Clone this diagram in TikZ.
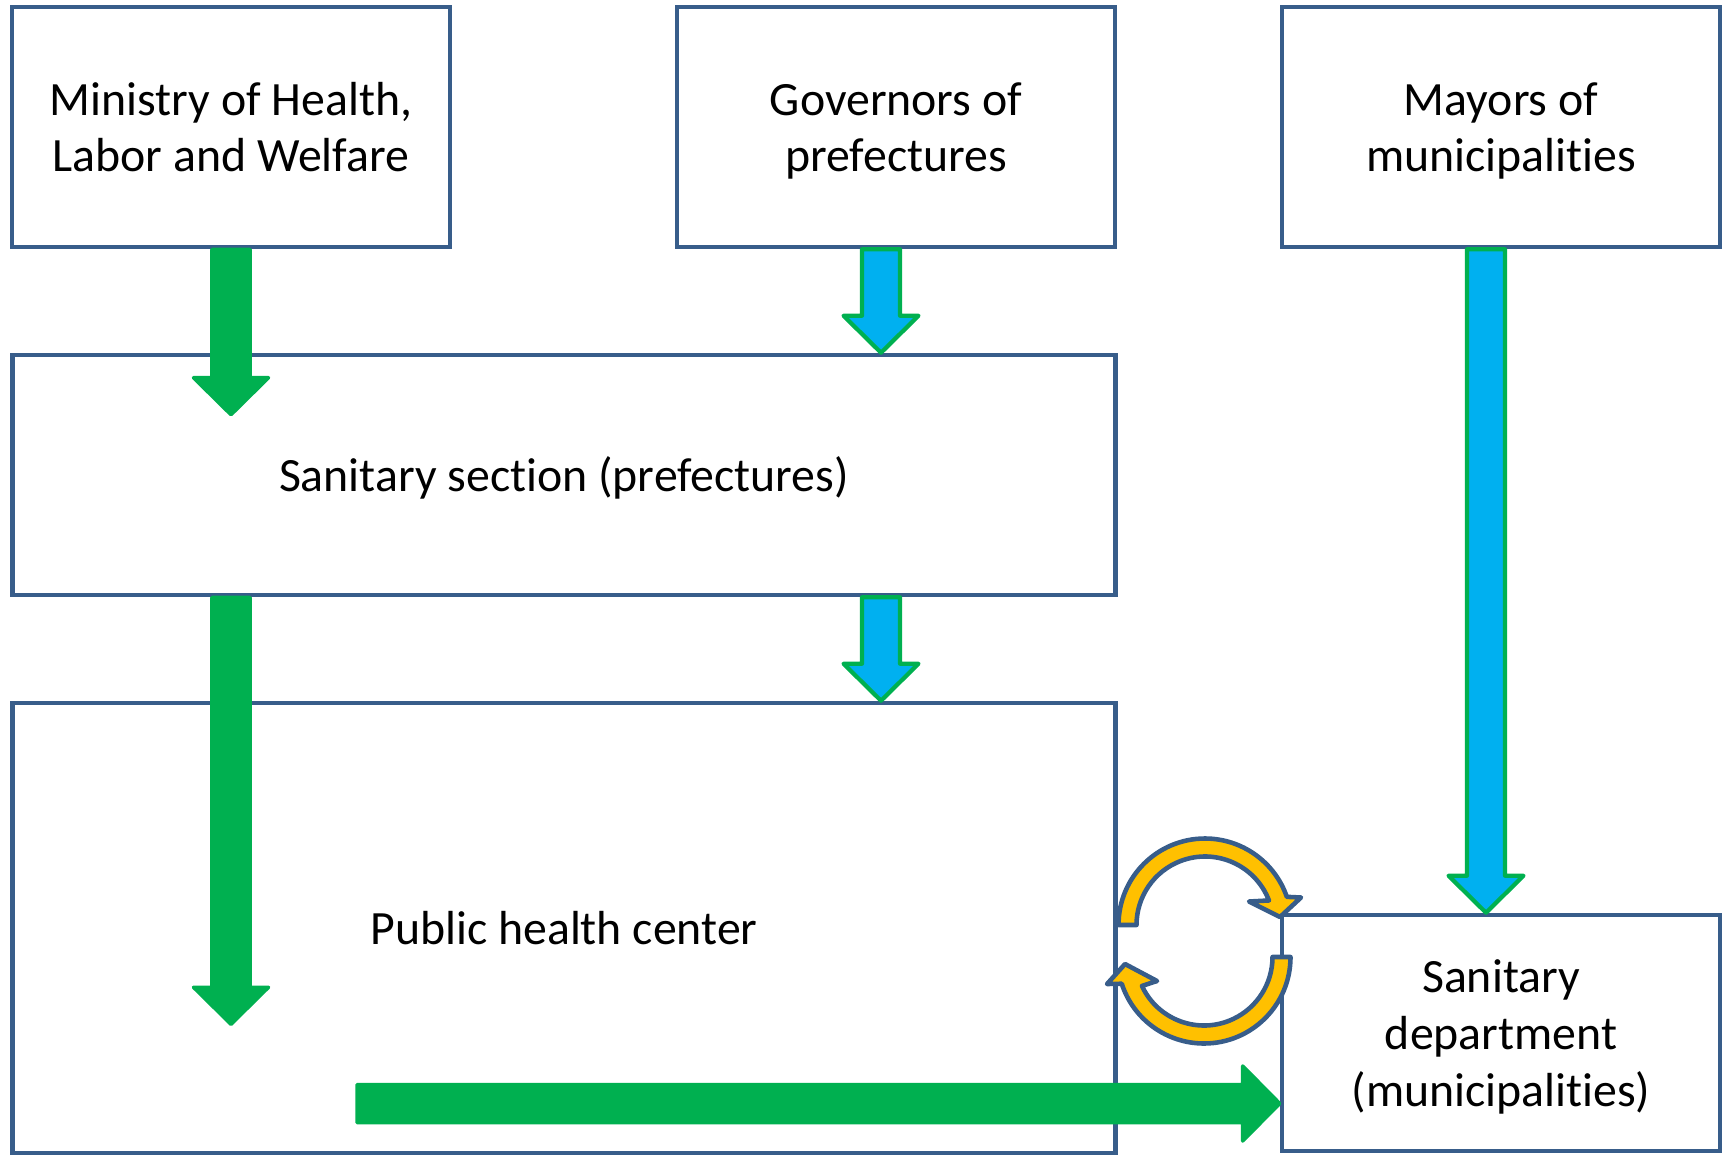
\documentclass[tikz,border=0pt]{standalone}
\usepackage{fontspec}
\setmainfont{Carlito}[Ligatures=NoCommon]
\usetikzlibrary{calc}
\definecolor{boxline}{RGB}{56,93,138}
\definecolor{arrgreen}{RGB}{0,176,80}
\definecolor{arrblue}{RGB}{0,176,240}
\definecolor{arryellow}{RGB}{255,192,0}
% line strut, as tall as one text line
\newcommand{\ls}{\rule[-3.4pt]{0pt}{16.2pt}}
% block arrow from #2 to the tip #3
\newcommand{\fatarrow}[3]{%
	\coordinate (fa-b) at ($(#3)!0.37cm!(#2)$);
	\path[#1] ($(#2)!0.19cm!90:(#3)$) -- ($(fa-b)!0.19cm!90:(#3)$) -- ($(fa-b)!0.375cm!90:(#3)$) -- (#3)
	-- ($(fa-b)!0.375cm!-90:(#3)$) -- ($(fa-b)!0.19cm!-90:(#3)$) -- ($(#2)!0.19cm!-90:(#3)$) -- cycle;}
\tikzset{
	box/.style={draw=boxline,line width=1.3pt,fill=white,inner sep=0pt,align=center,
		font=\fontsize{13.6}{16.2}\selectfont},
	greenarr/.style={fill=arrgreen,draw=arrgreen,line width=1pt,line join=round},
	bluearr/.style={fill=arrblue,draw=arrgreen,line width=1.2pt,line join=round},
	cyc/.style={fill=arryellow,draw=boxline,line width=1.3pt,line join=round},
}
\begin{document}
\begin{tikzpicture}
\useasboundingbox (0,0) rectangle (17.27,11.54);

\node[box,minimum width=4.38cm,minimum height=2.40cm] (mhlw) at (2.31,10.27) {\ls Ministry of Health,\\\ls Labor and Welfare};
\node[box,minimum width=4.38cm,minimum height=2.40cm] (gov) at (8.96,10.27) {\ls Governors of\\\ls prefectures};
\node[box,minimum width=4.38cm,minimum height=2.40cm] (mayor) at (15.01,10.27) {\ls Mayors of\\\ls municipalities};
\node[box,minimum width=11.03cm,minimum height=2.40cm] (sec) at (5.64,6.79) {\ls Sanitary section (prefectures)};
\node[box,minimum width=11.03cm,minimum height=4.50cm] (phc) at (5.64,2.26) {\ls Public health center};
\node[box,minimum width=4.38cm,minimum height=2.36cm] (dept) at (15.01,1.21) {\ls Sanitary\\\ls department\\\ls (municipalities)};

% green arrows
\coordinate (t1) at ($(mhlw.south |- sec.north)+(0,-0.62)$);
\coordinate (s2) at (mhlw.south |- sec.south);
\coordinate (t2) at ($(s2)+(0,-4.27)$);
\fatarrow{greenarr}{mhlw.south}{t1}
\fatarrow{greenarr}{s2}{t2}
\coordinate (s6) at (3.57,0.505);
\coordinate (t6) at (dept.west |- s6);
\fatarrow{greenarr}{s6}{t6}

% blue arrows
\coordinate (s3) at ($(gov.south)+(-0.15,0)$);
\coordinate (t3) at (s3 |- sec.north);
\coordinate (s4) at (s3 |- sec.south);
\coordinate (t4) at (s3 |- phc.north);
\coordinate (s5) at ($(mayor.south)+(-0.15,0)$);
\coordinate (t5) at (s5 |- dept.north);
\fatarrow{bluearr}{s3}{t3}
\fatarrow{bluearr}{s4}{t4}
\fatarrow{bluearr}{s5}{t5}

% exchange between phc and dept
\coordinate (cu) at (12.05,2.29);
\coordinate (cl) at (12.04,1.97);
\draw[cyc] ($(cu)+(180:0.865)$) arc[start angle=180,end angle=19,radius=0.865] -- ($(cu)+(0.96,0.275)$)
	-- ($(cu)+(0.75,0.08)$) -- ($(cu)+(0.44,0.235)$) -- ($(cu)+(21:0.685)$)
	arc[start angle=21,end angle=180,radius=0.685] -- cycle;
\draw[cyc] ($(cl)+(0:0.865)$) arc[start angle=0,end angle=-162,radius=0.865] -- ($(cl)+(-0.97,-0.27)$)
	-- ($(cl)+(-0.79,-0.07)$) -- ($(cl)+(-0.47,-0.24)$) -- ($(cl)+(-155:0.685)$)
	arc[start angle=-155,end angle=0,radius=0.685] -- cycle;
\end{tikzpicture}
\end{document}
